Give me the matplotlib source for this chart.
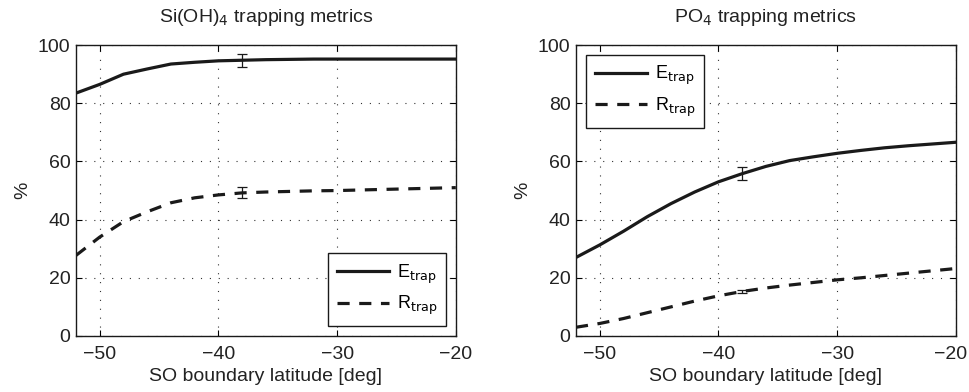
import numpy as np
import matplotlib.pyplot as plt
from matplotlib.transforms import ScaledTranslation

plt.rcParams['font.family'] = ['Liberation Sans', 'DejaVu Sans']

# latitude grid (deg)
lat = [-52, -50, -48, -46, -44, -42, -40, -38, -36, -34, -32, -30, -28, -26, -24, -22, -20]

# Si(OH)4 trapping metrics (%)
si_e = [83.5, 86.5, 90.0, 91.8, 93.5, 94.1, 94.6, 94.8, 95.0, 95.1, 95.2, 95.2, 95.2, 95.2, 95.2, 95.2, 95.2]
si_r = [27.7, 34.0, 39.3, 42.7, 45.8, 47.5, 48.5, 49.2, 49.5, 49.7, 49.9, 50.0, 50.2, 50.4, 50.6, 50.8, 51.0]

# PO4 trapping metrics (%)
po_e = [27.0, 31.3, 36.0, 41.0, 45.5, 49.5, 53.0, 55.8, 58.3, 60.3, 61.6, 62.8, 63.8, 64.7, 65.4, 66.0, 66.6]
po_r = [3.0, 4.3, 6.0, 8.0, 10.0, 12.0, 13.8, 15.3, 16.5, 17.5, 18.4, 19.3, 20.0, 20.8, 21.6, 22.4, 23.2]

# error bars at -38 deg: (value, half-width)
err_lat = -38
si_e_err = (94.8, 2.2)
si_r_err = (49.4, 1.9)
po_e_err = (55.8, 2.2)
po_r_err = (15.3, 0.5)

ink = '#1a1a1a'

fig = plt.figure(figsize=(9.69, 3.92), dpi=100)
ax1 = fig.add_axes([0.0784, 0.1429, 0.392, 0.742])
ax2 = fig.add_axes([0.5944, 0.1429, 0.392, 0.742])

panels = [
    (ax1, si_e, si_r, si_e_err, si_r_err, 'Si(OH)$_4$ trapping metrics', 'lower right'),
    (ax2, po_e, po_r, po_e_err, po_r_err, 'PO$_4$ trapping metrics', 'upper left'),
]

for ax, e, r, e_err, r_err, title, loc in panels:
    ax.plot(lat, e, color=ink, lw=2.3, ls='-', label='E$_{\\mathrm{trap}}$')
    ax.plot(lat, r, color=ink, lw=2.3, ls=(0, (3.8, 3.0)), label='R$_{\\mathrm{trap}}$')
    for val, err in (e_err, r_err):
        ax.errorbar([err_lat], [val], yerr=[err], fmt='none', ecolor=ink,
                    elinewidth=0.9, capsize=3.5, capthick=0.9)
    ax.set_xlim(-52, -20)
    ax.set_ylim(0, 100)
    ax.set_xticks([-50, -40, -30, -20])
    ax.set_xticklabels(['\u221250', '\u221240', '\u221230', '\u221220'])
    ax.set_yticks([0, 20, 40, 60, 80, 100])
    ax.grid(True, ls=(0, (1, 7)), color='#333333', lw=0.8)
    ax.tick_params(direction='in', top=True, right=True, labelsize=14, length=4,
                   labelcolor='#222222')
    ax.tick_params(axis='x', pad=7)
    ax.tick_params(axis='y', pad=4)
    ax.set_xlabel('SO boundary latitude [deg]', fontsize=14, labelpad=4, color='#222222')
    ax.set_ylabel('%', fontsize=14, labelpad=5, color='#222222')
    ax.set_title(title, fontsize=14, pad=17, color='#222222')
    for s in ax.spines.values():
        s.set_linewidth(1.0)
        s.set_color(ink)
    leg = ax.legend(loc=loc, fontsize=13, handlelength=2.9, handletextpad=0.4,
                    fancybox=False, edgecolor=ink, framealpha=1, borderpad=0.5,
                    labelspacing=0.45, borderaxespad=0.55)
    leg.get_frame().set_linewidth(1.0)

# keep the last tick label of the right panel inside the figure
last = ax2.get_xticklabels()[-1]
last.set_transform(last.get_transform() + ScaledTranslation(-5 / 100, 0, fig.dpi_scale_trans))

fig.savefig('out.png', dpi=100)
